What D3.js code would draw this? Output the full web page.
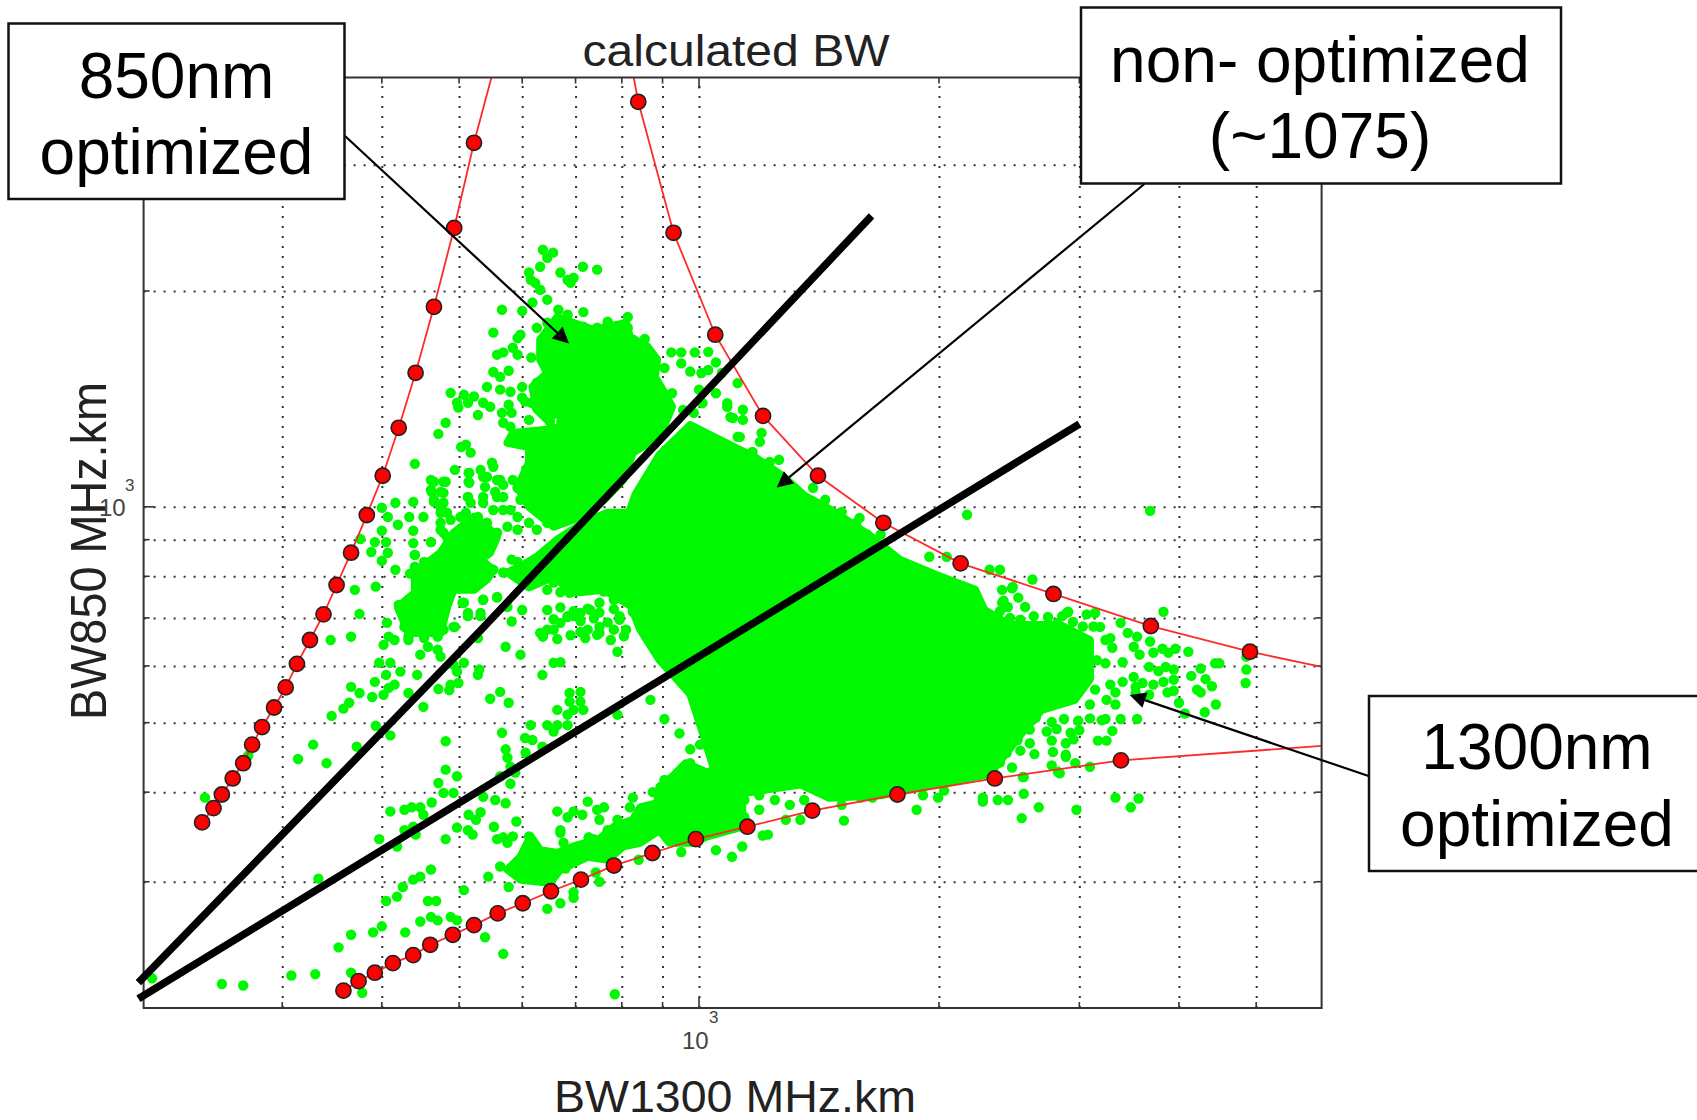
<!DOCTYPE html>
<html lang="en">
<head>
<meta charset="UTF-8">
<title>calculated BW</title>
<script src="https://d3js.org/d3.v7.min.js"></script>
<style>
  body { margin: 0; background: #fff; }
  text { font-family: "Liberation Sans", Arial, sans-serif; }
</style>
</head>
<body>
<div id="chart"></div>
<script>
// Grid lines and axis limits (MHz.km, both axes log)
const xLimits = [201, 6040];
const yLimits = [200, 3970];
const xGrid = [300, 400, 500, 600, 700, 800, 900, 1000, 2000, 3000, 4000, 5000];
const yGrid = [300, 400, 500, 600, 700, 800, 900, 1000, 2000, 3000];

// Red limit curves: marker values, then the extra ends of the lines
const leftBw1300 = [238, 246, 252, 260, 268, 275, 283, 293, 303, 313, 325, 338, 351, 366, 383, 401, 420, 441, 465, 493, 522];
const leftBw850 = [363, 380, 397, 418, 439, 466, 493, 525, 560, 604, 652, 708, 778, 863, 974, 1105, 1289, 1538, 1901, 2449, 3219];
const leftEnd = [549, 3970];
const upperBw1300 = [839, 929, 1048, 1203, 1410, 1703, 2129, 2784, 3688, 4911];
const upperBw850 = [3672, 2411, 1738, 1339, 1105, 950, 834, 756, 682, 628];
const upperStart = [828, 3970];
const upperEnd = [6040, 598];
const lowerBw1300 = [358, 374, 392, 413, 438, 460, 491, 522, 559, 601, 652, 711, 782, 874, 991, 1150, 1387, 1774, 2350, 3383];
const lowerBw850 = [211.5, 218, 224, 231, 237, 245, 253, 261, 271, 280, 291, 302, 316, 329, 344, 358, 377, 397, 418, 443];
const lowerEnd = [6040, 464];

// Thick black dividers
const divider1 = [[198, 217], [531, 671], [1646, 2546]];
const divider2 = [[198, 206], [3001, 1305]];

// Outlines of the regions where the green dots merge into solid
const coreBw1300 = [975, 1061, 1178, 1272, 1356, 1478, 1630, 1785, 1980, 2220, 2280, 2455, 2840, 3093, 3093, 2960, 2690, 2530, 2420, 2315, 2000, 1690, 1455, 1340, 1226, 1125, 1045, 1012, 975, 892, 844, 807, 832, 807, 832, 892];
const coreBw850 = [1300, 1240, 1170, 1105, 1036, 984, 915, 844, 804, 766, 718, 684, 684, 652, 575, 538, 521, 481, 451, 424, 411, 396, 393, 410, 404, 398, 430, 482, 548, 612, 674, 766, 843, 944, 1039, 1182];
const topBlobBw1300 = [632, 664, 696, 738, 810, 819, 862, 886, 880, 905, 925, 892, 826, 803, 760, 710, 657, 612, 592, 612, 612, 575, 584, 645, 670, 670, 645, 626, 618, 645, 632];
const topBlobBw850 = [1710, 1840, 1805, 1765, 1805, 1725, 1672, 1604, 1518, 1442, 1379, 1252, 1190, 1090, 1023, 968, 938, 1000, 1066, 1152, 1212, 1228, 1268, 1281, 1293, 1365, 1322, 1365, 1470, 1538, 1604];
const leftBlobBw1300 = [440, 474, 492, 522, 542, 558, 547, 532, 552, 542, 522, 492, 483, 474, 432, 419, 440];
const leftBlobBw850 = [810, 863, 920, 968, 938, 908, 863, 844, 817, 792, 766, 766, 725, 667, 667, 725, 759];
const midBlobBw1300 = [626, 664, 716, 768, 819, 835, 826, 760, 696, 657, 612, 575, 597];
const midBlobBw850 = [852, 900, 950, 981, 981, 900, 725, 766, 759, 799, 772, 810, 825];
const lowBlobBw1300 = [575, 597, 615, 632, 664, 696, 750, 782, 826, 844, 886, 892, 925, 962, 1024, 1133, 1133, 1024, 982, 918, 892, 844, 803, 768, 725, 670, 650, 597];
const lowBlobBw850 = [312, 325, 347, 332, 329, 336, 344, 358, 366, 381, 386, 407, 420, 439, 426, 444, 358, 347, 340, 340, 354, 340, 336, 322, 325, 312, 299, 302];

// Separate green dots: [BW1300, BW850]
const greenDots = [
  // top sprig and upper edge
  [637, 2283], [656, 2262], [645, 2225], [632, 2162], [715, 2162], [745, 2142], [612, 2122], [670, 2122], [696, 2087], [615, 2073],
  [684, 2073], [623, 2053], [690, 2053], [632, 2008], [645, 1945], [618, 1927], [666, 1883], [716, 1869], [566, 1883], [600, 1876],
  [684, 1853], [626, 1777], [645, 1806], [768, 1812], [814, 1840], [814, 1777], [792, 1765], [826, 1710], [855, 1715], [745, 1777],
  [716, 1783], [552, 1750], [592, 1720], [597, 1738], [568, 1642], [558, 1630], [584, 1667], [616, 1615], [592, 1630], [552, 1542],
  [577, 1548], [563, 1518], [542, 1470], [600, 1470], [580, 1447], [563, 1457], [626, 1490], [626, 1425], [600, 1420], [577, 1388],
  [582, 1352], [605, 1402], [616, 1397], [626, 1375], [612, 1322], [566, 1352], [568, 1310], [580, 1293], [547, 1379], [536, 1397],
  [522, 1425], [528, 1343], [507, 1433], [497, 1397], [513, 1397], [499, 1375], [488, 1442], [481, 1310], [471, 1264], [510, 1221],
  [517, 1190], [503, 1212], [650, 1315],
  // left cluster
  [440, 1148], [494, 1126], [514, 1115], [550, 1152], [532, 1126], [542, 1101], [558, 1090], [568, 1073], [514, 1084], [465, 1084],
  [481, 1084], [474, 1049], [462, 1049], [539, 1066], [555, 1049], [513, 1032], [568, 1032], [465, 1016], [478, 1013], [517, 1013],
  [536, 1013], [400, 997], [416, 1013], [438, 1016], [474, 981], [510, 981], [568, 990], [407, 968], [433, 968], [451, 968],
  [488, 959], [419, 944], [400, 926], [438, 926], [474, 929], [376, 902], [392, 893], [405, 893], [438, 890], [461, 893],
  [483, 908], [388, 865], [407, 863], [400, 841], [440, 857], [416, 817], [434, 807], [370, 766], [393, 774], [375, 709],
  [406, 689], [420, 730], [366, 659], [542, 870], [582, 844], [592, 838], [536, 742], [558, 747], [505, 735], [513, 711],
  [532, 711], [494, 680], [582, 692], [600, 718], [575, 725], [727, 774], [730, 718], [657, 674], [684, 704], [710, 711],
  [750, 735], [782, 742], [810, 674], [632, 667], [750, 680], [710, 669], [795, 704], [826, 735],
  [402, 642], [415, 652], [432, 652], [397, 606], [410, 606], [447, 622], [457, 638], [470, 632], [422, 589], [405, 583],
  [392, 570], [443, 583], [474, 618], [492, 602], [507, 606], [530, 593], [497, 589], [528, 583], [408, 559], [402, 547],
  [415, 565], [471, 557], [486, 555], [499, 568], [488, 565], [389, 543], [375, 550], [366, 561], [432, 550], [451, 526],
  [364, 533], [358, 523], [393, 495], [410, 480], [372, 463], [481, 471], [528, 656], [572, 638], [597, 622], [636, 583],
  [657, 606], [670, 607], [547, 540], [563, 552], [577, 533], [790, 628], [790, 513],
  [461, 1090], [478, 1084], [461, 1056], [478, 1046], [515, 1115], [515, 1080], [536, 1101], [552, 1137], [563, 1090], [584, 1090],
  [592, 1063], [607, 1126], [465, 1023], [474, 1000], [483, 981], [513, 1032], [536, 1032], [558, 1032], [597, 1023], [580, 990],
  [592, 968], [552, 990], [474, 950], [478, 920], [502, 968], [528, 968], [542, 950], [558, 920], [575, 938], [592, 929],
  [612, 950], [626, 929], [645, 950], [461, 893], [492, 900], [507, 879], [528, 900], [542, 890], [497, 852], [513, 852],
  [532, 863], [440, 857], [452, 838], [474, 852], [440, 825], [457, 817], [474, 810], [492, 810], [513, 810], [532, 817],
  [552, 817], [568, 810], [592, 799], [449, 792], [465, 774], [483, 774], [507, 774], [522, 774], [612, 792], [632, 792],
  [657, 784], [688, 759], [445, 759], [461, 749], [478, 749], [432, 742], [449, 735], [465, 735], [483, 735], [422, 718],
  [440, 704], [457, 711], [474, 704], [507, 735], [513, 704], [427, 680], [445, 674], [461, 680], [478, 674], [492, 680],
  [532, 704], [536, 742], [558, 749], [408, 659], [432, 659], [452, 656], [470, 659], [645, 674], [670, 689], [696, 704],
  [725, 674], [750, 667], [782, 674],
  // beside the core, left of the first divider's lower half
  [645, 718], [670, 724], [696, 715], [725, 721], [750, 712], [782, 720], [826, 714], [657, 697], [684, 702], [710, 693],
  [738, 699], [768, 690], [795, 696], [637, 659], [664, 654], [690, 662], [720, 656], [745, 663], [775, 652], [805, 660],
  [645, 766], [670, 760], [710, 769], [760, 762], [790, 768],
  // between the dividers
  [688, 550], [710, 552], [688, 535], [710, 535], [696, 521], [716, 521], [664, 521], [684, 513], [645, 496], [664, 496],
  [684, 496], [657, 486], [615, 496], [566, 484], [605, 476], [618, 473], [636, 463], [606, 454], [572, 459], [575, 447],
  [580, 434], [588, 426], [580, 411], [563, 421], [481, 430], [497, 421], [471, 412], [478, 399], [492, 399], [462, 387],
  [447, 381], [436, 381], [427, 378], [410, 376], [536, 394], [555, 390], [572, 386], [451, 372], [438, 358], [427, 354],
  [397, 344], [418, 336], [441, 349], [514, 372], [532, 375], [525, 366], [497, 357], [513, 354], [520, 349], [481, 344],
  [553, 358], [590, 364], [725, 388], [664, 376], [696, 376], [714, 372], [684, 369], [745, 378], [760, 381], [750, 366],
  [558, 344], [568, 346], [584, 347], [575, 340], [670, 351], [676, 340], [738, 344],
  [612, 347], [670, 354], [727, 346], [768, 354], [790, 366], [819, 381], [826, 393], [865, 377], [875, 400], [905, 416],
  [936, 420], [975, 439],
  // lower strip and below it
  [461, 312], [447, 305], [438, 302], [425, 295], [418, 286], [405, 282], [457, 282], [468, 282], [507, 292], [544, 305],
  [563, 315], [577, 295], [680, 313], [742, 309], [750, 300], [840, 322], [950, 330], [1050, 332], [1100, 325], [696, 290],
  [696, 285], [670, 280], [645, 275], [488, 268], [497, 265], [447, 264], [461, 268], [470, 265], [400, 260], [390, 255],
  [428, 255], [366, 253], [353, 243], [539, 251], [568, 238], [378, 210], [784, 209], [366, 224],
  [1140, 390], [1190, 378], [1245, 390], [1300, 384], [1355, 390], [1061, 402], [1110, 384], [1078, 366], [1140, 369], [1003, 390],
  [1034, 372], [975, 363], [1003, 354], [1190, 396], [1094, 424], [1160, 411], [1045, 444], [1003, 466], [945, 483], [905, 506],
  [869, 538], [975, 459],
  // far left strays
  [240, 393], [206, 220], [252, 216], [268, 215], [308, 222], [330, 223], [333, 303], [345, 652], [346, 511], [328, 466],
  [314, 445], [341, 439], [272, 450],
  // edge of the core towards the upper curve
  [1135, 1366], [1135, 1322], [1103, 1330], [1085, 1379], [1125, 1252], [1198, 1268], [1192, 1232], [1167, 1193], [1226, 1155], [1260, 1163],
  [1510, 984], [1590, 965], [1625, 915], [1575, 950], [1690, 915], [1500, 974], [1440, 1023], [1390, 1063], [923, 1642], [950, 1642],
  [988, 1642], [1027, 1645], [950, 1585], [905, 1562], [975, 1544], [1027, 1552], [1050, 1590], [1007, 1537], [1068, 1537], [925, 1440],
  [1000, 1457], [1050, 1440], [1085, 1395], [1095, 1334], [1118, 1488], [1118, 1252], [1010, 1395], [955, 1365], [985, 1352],
  [2169, 975], [3680, 987], [1945, 852], [2045, 852], [2315, 817], [2385, 817], [2475, 773], [2400, 766], [2400, 735], [2895, 712],
  // right tail
  [2620, 792], [2515, 747], [2565, 725], [2905, 714], [2855, 704], [3065, 708], [3140, 711], [3825, 714], [3186, 680], [3380, 689],
  [3450, 667], [3545, 659], [3281, 656], [3680, 649], [3510, 638], [3300, 636], [3570, 622], [3715, 626], [3815, 634], [3960, 634],
  [3880, 626], [4110, 628], [3400, 607], [3235, 605], [3155, 611], [3670, 598], [3850, 598], [3770, 590], [3940, 593], [3510, 579],
  [3940, 574], [3825, 570], [3600, 568], [3715, 565], [3530, 561], [3400, 570], [3281, 565], [3870, 551], [3940, 554], [3670, 547],
  [3530, 550], [3330, 551], [4000, 533], [4070, 515], [3330, 530], [3380, 506], [3545, 506], [3235, 506], [3300, 487], [3165, 472],
  [3245, 472], [4440, 605], [4495, 605], [4260, 595], [4145, 581], [4320, 575], [4400, 562], [4215, 556], [4260, 551], [4450, 530],
  [4310, 517], [4860, 618], [4860, 593], [4850, 568], [2455, 700], [2530, 696], [2630, 704], [2740, 702], [2470, 770], [2410, 740],
  [2440, 725], [2385, 715], [2815, 689], [2945, 691], [3030, 681], [3125, 681], [3000, 659], [2895, 667], [2630, 681], [2510, 681],
  [3235, 652], [2432, 504], [2645, 508], [2770, 501], [2870, 506], [2990, 503], [3093, 507], [3200, 504], [2450, 490], [2530, 485],
  [2600, 489], [2730, 486], [2810, 490], [2925, 484], [3000, 488], [2415, 470], [2510, 473], [2600, 468], [2770, 472], [2885, 468],
  [2950, 474], [2432, 454], [2530, 457], [2635, 452], [2780, 455], [2885, 451], [3093, 530], [3245, 538], [3140, 556], [2385, 440],
  [2470, 433],
  // under the lower curve on the right
  [3330, 393], [3560, 392], [3480, 381], [2975, 378], [2668, 381], [2555, 398], [2540, 368], [2441, 390], [2835, 425], [3093, 434],
  [2770, 436], [2965, 439], [2885, 448], [2555, 420], [1875, 378], [1520, 365], [1340, 366], [1285, 366], [1202, 348], [1220, 349],
  [1133, 336], [2270, 393], [2270, 388], [2370, 390], [2548, 420], [2030, 402], [1995, 393], [1910, 396], [1595, 393], [1650, 393],
  [1510, 384], [2820, 427]
];

const width = 1697;
const height = 1120;
const margin = { left: 143.6, right: 1321.6, top: 77.5, bottom: 1008 };
const green = "#00f800";

const x = d3.scaleLog().domain(xLimits).range([margin.left, margin.right]);
const y = d3.scaleLog().domain(yLimits).range([margin.bottom, margin.top]);

const svg = d3.select("#chart").append("svg")
  .attr("width", width)
  .attr("height", height);

// dotted grid
const gridX = svg.append("g")
  .attr("transform", `translate(0,${margin.bottom})`)
  .call(d3.axisBottom(x).tickValues(xGrid).tickSize(margin.top - margin.bottom).tickFormat(""));
const gridY = svg.append("g")
  .attr("transform", `translate(${margin.left},0)`)
  .call(d3.axisLeft(y).tickValues(yGrid).tickSize(margin.left - margin.right).tickFormat(""));
[gridX, gridY].forEach(g => {
  g.select(".domain").remove();
  g.selectAll("line").attr("stroke", "#333").attr("stroke-width", 2).attr("stroke-dasharray", "2,8");
});

// tick marks on all four sides, the 10^3 ones longer
const tickLen = d => (d === 1000 ? 11 : 6);
function ticks(values, place) {
  svg.append("g").selectAll("line").data(values).join("line")
    .attr("stroke", "#333").attr("stroke-width", 1.6)
    .each(function (d) { d3.select(this).attr("x1", place(d)[0]).attr("y1", place(d)[1]).attr("x2", place(d)[2]).attr("y2", place(d)[3]); });
}
ticks(xGrid, d => [x(d), margin.bottom, x(d), margin.bottom - tickLen(d)]);
ticks(xGrid, d => [x(d), margin.top, x(d), margin.top + tickLen(d)]);
ticks(yGrid, d => [margin.left, y(d), margin.left + tickLen(d), y(d)]);
ticks(yGrid, d => [margin.right, y(d), margin.right - tickLen(d), y(d)]);

// green scatter
const solid = d3.line().x(d => x(d[0])).y(d => y(d[1])).curve(d3.curveLinearClosed);
[
  [coreBw1300, coreBw850],
  [topBlobBw1300, topBlobBw850],
  [leftBlobBw1300, leftBlobBw850],
  [midBlobBw1300, midBlobBw850],
  [lowBlobBw1300, lowBlobBw850]
].forEach(([xs, ys]) => {
  svg.append("path")
    .attr("d", solid(d3.zip(xs, ys)))
    .attr("fill", green)
    .attr("stroke", green)
    .attr("stroke-width", 8)
    .attr("stroke-linejoin", "round");
});

svg.append("g").selectAll("circle").data(greenDots).join("circle")
  .attr("cx", d => x(d[0]))
  .attr("cy", d => y(d[1]))
  .attr("r", 5.2)
  .attr("fill", green);

// red curves with markers
const line = d3.line().x(d => x(d[0])).y(d => y(d[1]));
const left = d3.zip(leftBw1300, leftBw850);
const upper = d3.zip(upperBw1300, upperBw850);
const lower = d3.zip(lowerBw1300, lowerBw850);
[left.concat([leftEnd]), [upperStart].concat(upper, [upperEnd]), lower.concat([lowerEnd])].forEach(pts => {
  svg.append("path")
    .attr("d", line(pts))
    .attr("fill", "none")
    .attr("stroke", "#ff2a2a")
    .attr("stroke-width", 1.8);
});
svg.append("g").selectAll("circle").data(left.concat(upper, lower)).join("circle")
  .attr("cx", d => x(d[0]))
  .attr("cy", d => y(d[1]))
  .attr("r", 7.6)
  .attr("fill", "#ff0000")
  .attr("stroke", "#222")
  .attr("stroke-width", 1.6);

// frame
svg.append("rect")
  .attr("x", margin.left)
  .attr("y", margin.top)
  .attr("width", margin.right - margin.left)
  .attr("height", margin.bottom - margin.top)
  .attr("fill", "none")
  .attr("stroke", "#333")
  .attr("stroke-width", 2);

// thick dividers
[divider1, divider2].forEach(pts => {
  svg.append("path")
    .attr("d", line(pts))
    .attr("fill", "none")
    .attr("stroke", "#000")
    .attr("stroke-width", 7.5);
});

// axis text
svg.append("text").attr("x", 736).attr("y", 66).attr("text-anchor", "middle")
  .attr("font-size", 45).attr("fill", "#222")
  .attr("textLength", 307).attr("lengthAdjust", "spacingAndGlyphs").text("calculated BW");
svg.append("text").attr("x", 735).attr("y", 1112).attr("text-anchor", "middle")
  .attr("font-size", 45).attr("fill", "#222")
  .attr("textLength", 362).attr("lengthAdjust", "spacingAndGlyphs").text("BW1300 MHz.km");
svg.append("text").attr("transform", "translate(106,551) rotate(-90)").attr("text-anchor", "middle")
  .attr("font-size", 50).attr("fill", "#222")
  .attr("textLength", 338).attr("lengthAdjust", "spacingAndGlyphs").text("BW850 MHz.km");

const decade = [
  { base: [682, 1048.5], exp: [709, 1023] },
  { base: [99, 516], exp: [125, 491] }
];
decade.forEach(d => {
  svg.append("text").attr("x", d.base[0]).attr("y", d.base[1]).attr("font-size", 24).attr("fill", "#444").text("10");
  svg.append("text").attr("x", d.exp[0]).attr("y", d.exp[1]).attr("font-size", 17).attr("fill", "#444").text("3");
});

// callouts and their arrows
const arrows = [
  { from: [345, 136], to: [569, 343.6] },
  { from: [1144.4, 184], to: [776.7, 487.5] },
  { from: [1368.6, 776], to: [1129.8, 695] }
];
arrows.forEach(a => {
  const ang = Math.atan2(a.to[1] - a.from[1], a.to[0] - a.from[0]);
  const bx = a.to[0] - 16 * Math.cos(ang);
  const by = a.to[1] - 16 * Math.sin(ang);
  svg.append("line").attr("x1", a.from[0]).attr("y1", a.from[1]).attr("x2", bx).attr("y2", by)
    .attr("stroke", "#000").attr("stroke-width", 2.2);
  svg.append("path")
    .attr("d", d3.line()([
      a.to,
      [bx - 8 * Math.sin(ang), by + 8 * Math.cos(ang)],
      [bx + 8 * Math.sin(ang), by - 8 * Math.cos(ang)]
    ]) + "Z")
    .attr("fill", "#000");
});

const boxes = [
  { x: 8.5, y: 23.5, w: 336, h: 175.5, cx: 176.5, lines: ["850nm", "optimized"], base: [98, 174] },
  { x: 1081, y: 7.5, w: 480, h: 176, cx: 1320, lines: ["non- optimized", "(~1075)"], base: [82, 158] },
  { x: 1369, y: 696, w: 340, h: 175, cx: 1537, lines: ["1300nm", "optimized"], base: [769, 846] }
];
boxes.forEach(b => {
  svg.append("rect").attr("x", b.x).attr("y", b.y).attr("width", b.w).attr("height", b.h)
    .attr("fill", "#fff").attr("stroke", "#111").attr("stroke-width", 2.5);
  b.lines.forEach((t, i) => {
    svg.append("text").attr("x", b.cx).attr("y", b.base[i]).attr("text-anchor", "middle")
      .attr("font-size", 64).attr("fill", "#000").text(t);
  });
});
</script>
</body>
</html>
